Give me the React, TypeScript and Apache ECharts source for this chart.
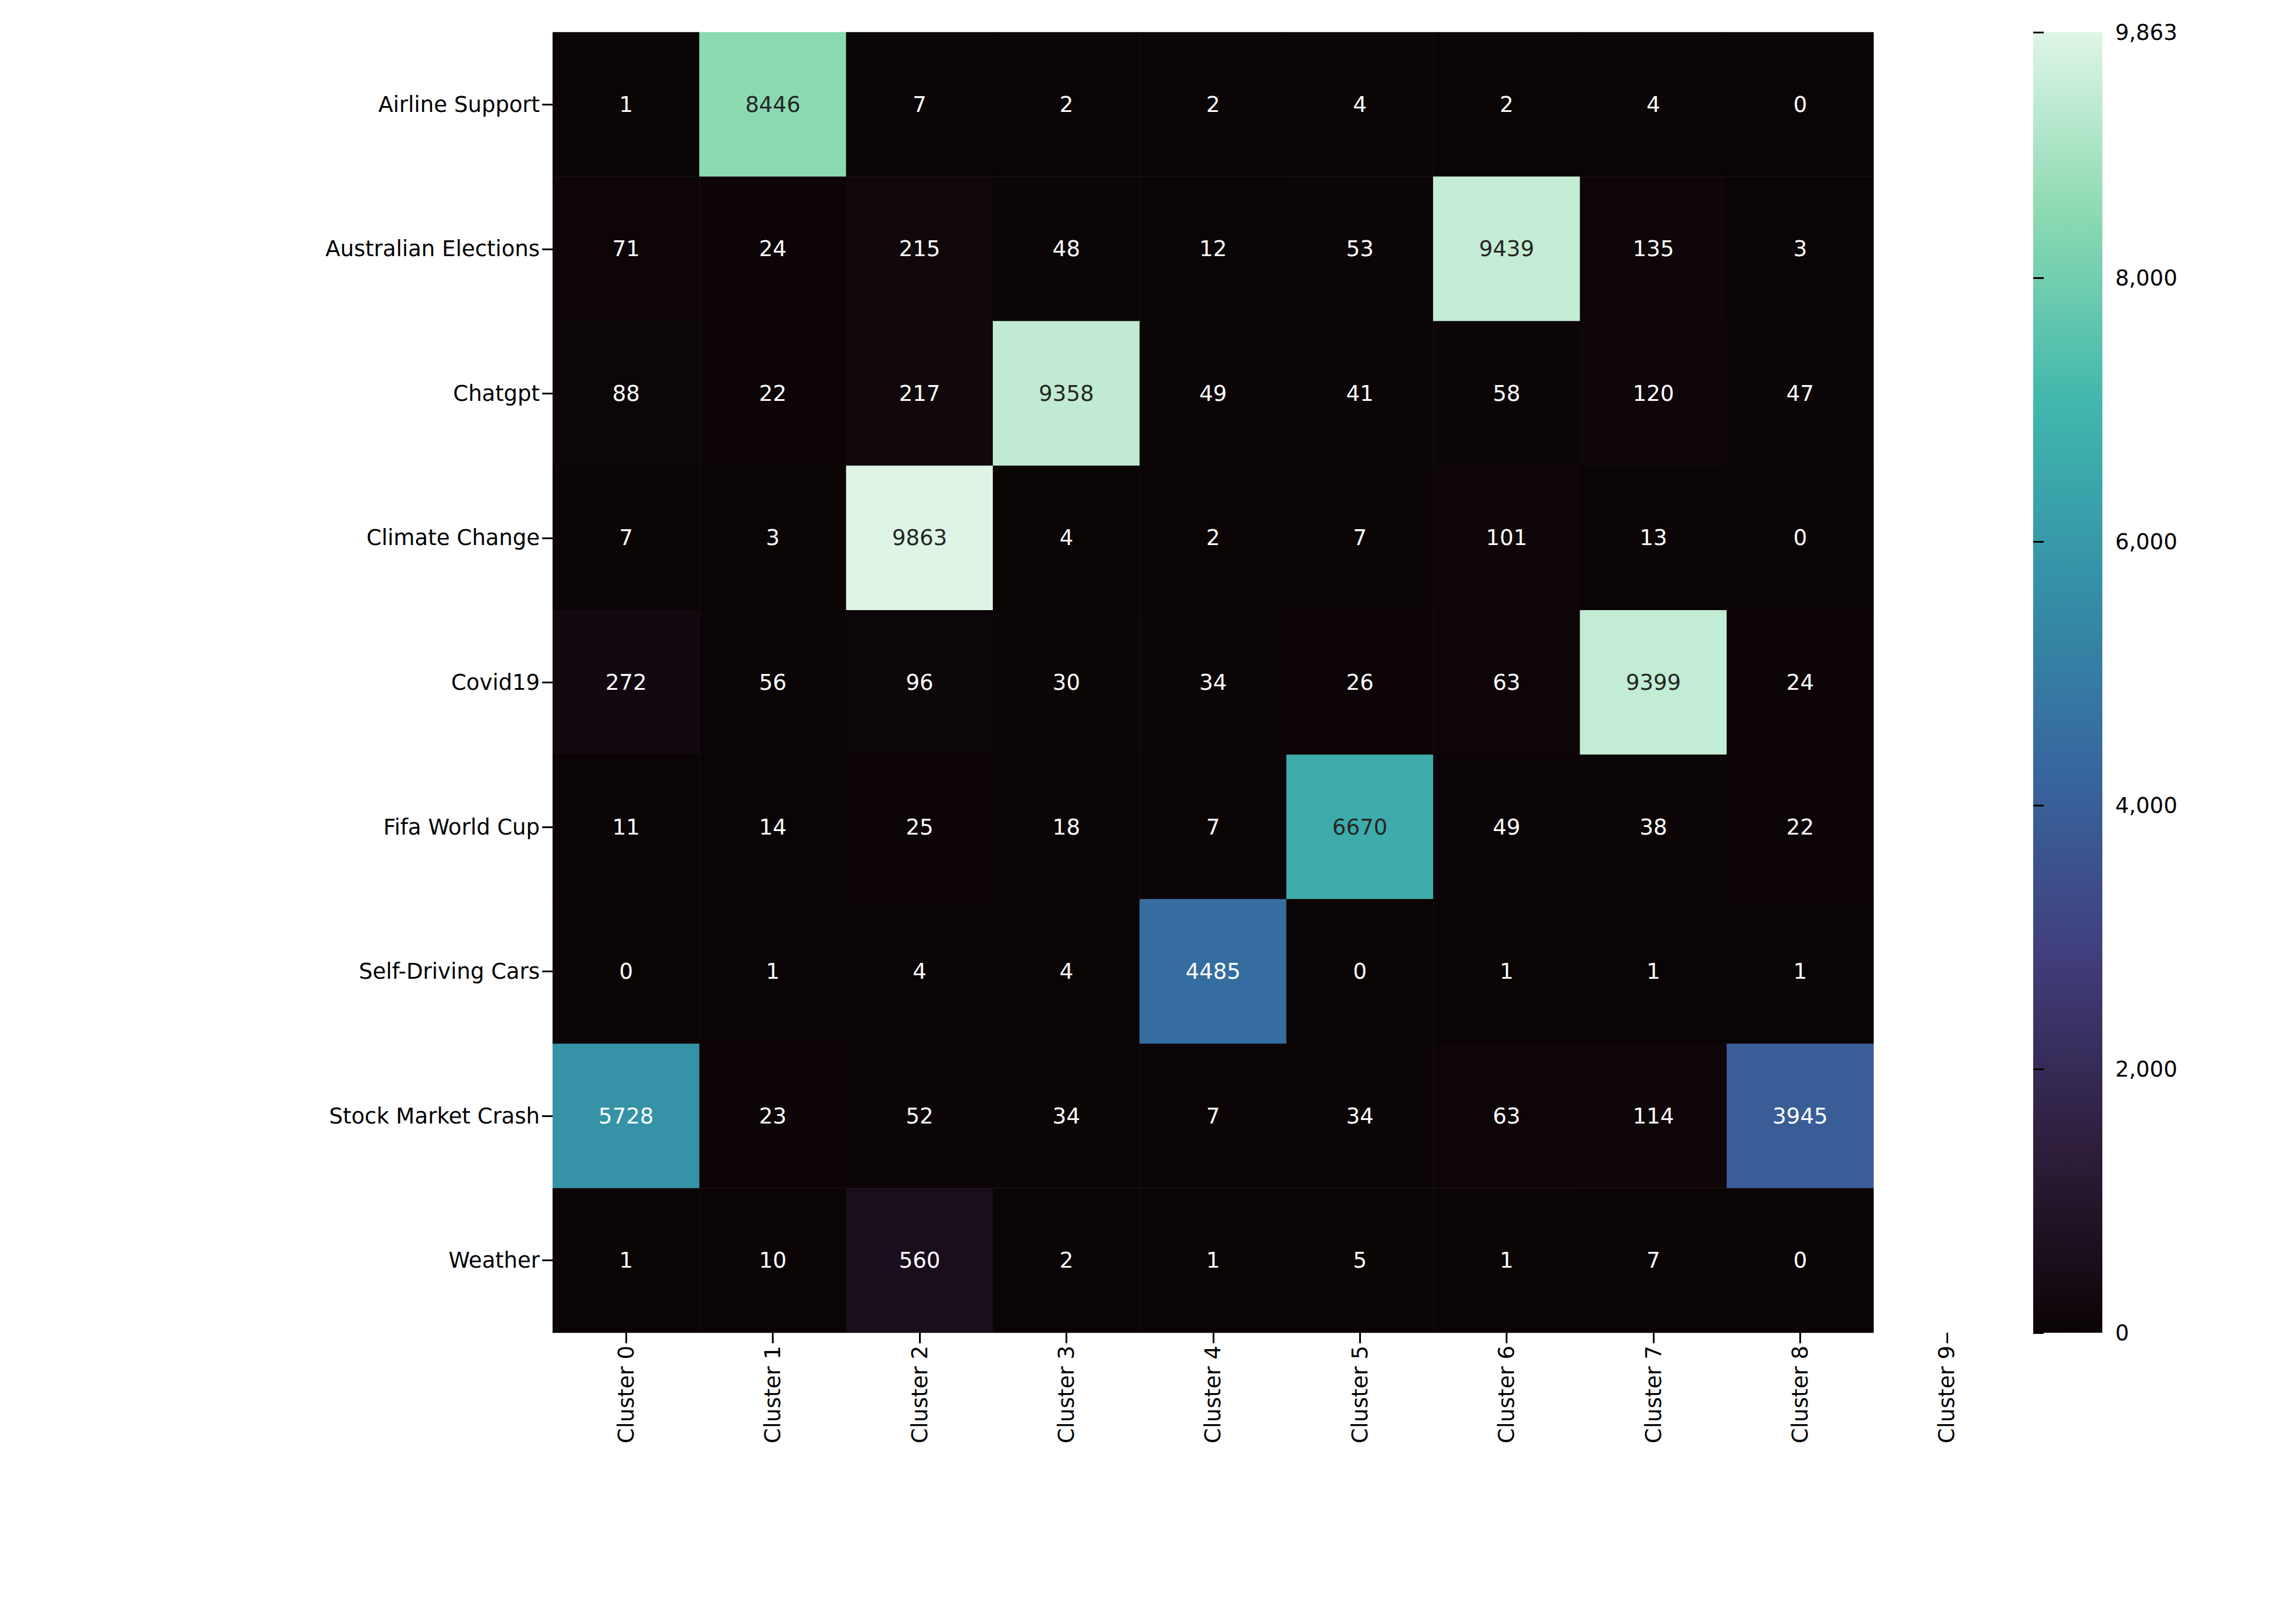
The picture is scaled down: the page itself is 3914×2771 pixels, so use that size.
import { useEffect, useRef } from 'react';
import * as echarts from 'echarts';

const topics = [
  'Airline Support',
  'Australian Elections',
  'Chatgpt',
  'Climate Change',
  'Covid19',
  'Fifa World Cup',
  'Self-Driving Cars',
  'Stock Market Crash',
  'Weather',
];
const clusters = ['Cluster 0', 'Cluster 1', 'Cluster 2', 'Cluster 3', 'Cluster 4', 'Cluster 5', 'Cluster 6', 'Cluster 7', 'Cluster 8', 'Cluster 9'];
const counts = [
  [1, 8446, 7, 2, 2, 4, 2, 4, 0],
  [71, 24, 215, 48, 12, 53, 9439, 135, 3],
  [88, 22, 217, 9358, 49, 41, 58, 120, 47],
  [7, 3, 9863, 4, 2, 7, 101, 13, 0],
  [272, 56, 96, 30, 34, 26, 63, 9399, 24],
  [11, 14, 25, 18, 7, 6670, 49, 38, 22],
  [0, 1, 4, 4, 4485, 0, 1, 1, 1],
  [5728, 23, 52, 34, 7, 34, 63, 114, 3945],
  [1, 10, 560, 2, 1, 5, 1, 7, 0],
];
const colorbarMax = 9863;
const mako = ['#0B0405', '#2E1E3C', '#413D7B', '#37659E', '#348FA7', '#40B7AD', '#8AD9B1', '#DEF5E5'];

const FONT = 'DejaVu Sans';

export default function App() {
  const ref = useRef<HTMLDivElement>(null);

  useEffect(() => {
    if (!ref.current) return;
    document.body.style.margin = '0';
    const chart = echarts.init(ref.current, undefined, { renderer: 'svg' });

    const data: any[] = [];
    counts.forEach((row, r) =>
      row.forEach((v, c) => {
        data.push({
          value: [c, r, v],
          label: { color: v / colorbarMax > 0.6 ? '#262626' : '#ffffff' },
        });
      }),
    );

    const left = 943;
    const top = 55;
    const cellW = 250.4;
    const h = 2219;

    chart.setOption({
      animation: false,
      backgroundColor: '#ffffff',
      grid: [
        { left, top, width: cellW * 10, height: h },
        { left: 3469, top, width: 118, height: h },
      ],
      xAxis: [
        {
          type: 'category',
          data: clusters,
          gridIndex: 0,
          position: 'bottom',
          axisLine: { show: false },
          axisTick: { show: true, alignWithLabel: true, length: 18, lineStyle: { color: '#000', width: 3 } },
          axisLabel: { rotate: 90, fontFamily: FONT, fontSize: 37, color: '#000', margin: 22 },
          splitLine: { show: false },
        },
        { type: 'value', gridIndex: 1, show: false },
      ],
      yAxis: [
        {
          type: 'category',
          data: topics,
          inverse: true,
          gridIndex: 0,
          axisLine: { show: false },
          axisTick: { show: true, alignWithLabel: true, length: 18, lineStyle: { color: '#000', width: 3 } },
          axisLabel: { fontFamily: FONT, fontSize: 37, color: '#000', margin: 22 },
          splitLine: { show: false },
        },
        {
          type: 'value',
          gridIndex: 1,
          min: 0,
          max: colorbarMax,
          interval: 2000,
          position: 'right',
          axisLine: { show: false },
          axisTick: { show: true, length: 18, lineStyle: { color: '#000', width: 3 } },
          axisLabel: { fontFamily: FONT, fontSize: 37, color: '#000', margin: 22 },
          splitLine: { show: false },
        },
      ],
      visualMap: {
        show: false,
        min: 0,
        max: colorbarMax,
        dimension: 2,
        seriesIndex: 0,
        inRange: { color: mako },
      },
      graphic: [
        {
          type: 'rect',
          shape: { x: 3469, y: top, width: 118, height: h },
          z: -1,
          style: {
            fill: new echarts.graphic.LinearGradient(
              0, 1, 0, 0,
              mako.map((c, i) => ({ offset: i / (mako.length - 1), color: c })),
            ),
          },
        },
      ],
      series: [
        {
          type: 'heatmap',
          xAxisIndex: 0,
          yAxisIndex: 0,
          data,
          label: {
            show: true,
            fontFamily: FONT,
            fontSize: 37,
            formatter: (p: any) => String(p.value[2]),
          },
        },
        { type: 'line', xAxisIndex: 1, yAxisIndex: 1, data: [] },
      ],
    });

    return () => chart.dispose();
  }, []);

  return <div ref={ref} style={{ width: 3914, height: 2771 }} />;
}
